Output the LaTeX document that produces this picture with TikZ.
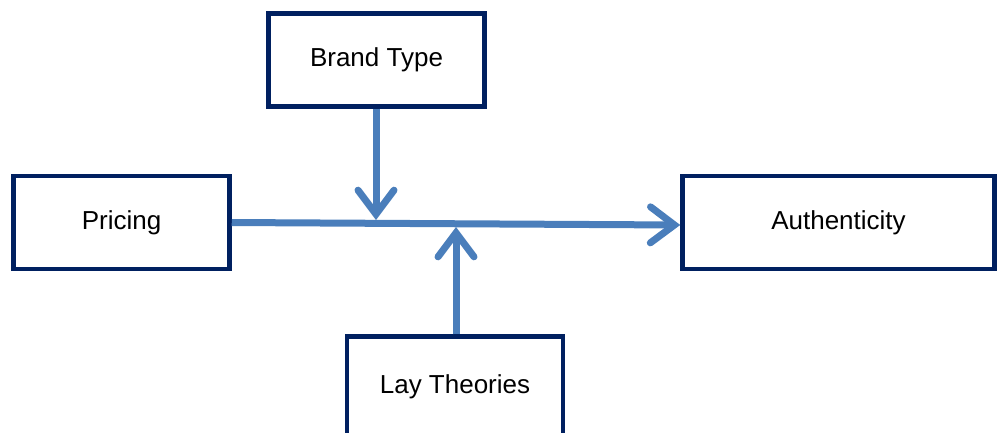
\documentclass[tikz,border=0pt]{standalone}
\usepackage{fontspec}
\setmainfont{Liberation Sans}
\usetikzlibrary{arrows.meta}
\definecolor{boxc}{RGB}{0,32,96}
\definecolor{arrc}{RGB}{74,126,187}
\begin{document}
\begin{tikzpicture}[x=1pt,y=-1pt,
  box/.style={draw=boxc,line width=4.5pt,fill=white,minimum width=216pt,minimum height=93pt,inner sep=0pt,font=\fontsize{26}{30}\selectfont},
  conn/.style={draw=arrc,line width=7pt,-{Straight Barb[length=24pt,width=36pt,line cap=round,line width=7pt]}}]
\useasboundingbox (0,0) rectangle (998,432);
\clip (0,0) rectangle (998,432);
\node[box] (brand) at (376.5,60) {Brand Type};
\node[box] (pricing) at (121.5,222.5) {Pricing};
\node[box,minimum width=312pt] (auth) at (838.5,222.5) {Authenticity};
\node[box,minimum height=100pt] (lay) at (455,386.5) {Lay Theories};
\coordinate (top) at (376,220);
\coordinate (bot) at (456,227);
\draw[conn] ([yshift=0pt]pricing.east) -- ([yshift=-2.5pt]auth.west);
\draw[conn] (brand.south -| top) -- (top);
\draw[conn] (lay.north -| bot) -- (bot);
\end{tikzpicture}
\end{document}
